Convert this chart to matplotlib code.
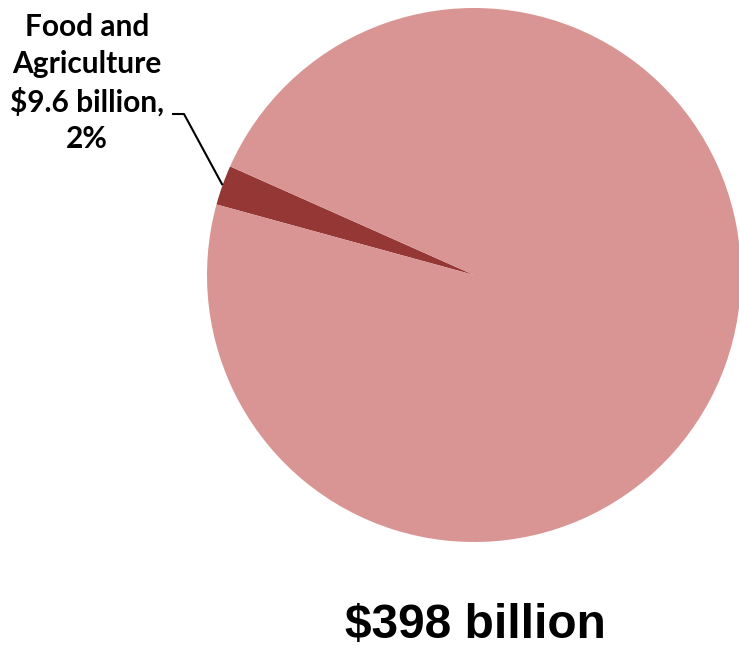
import numpy as np
import matplotlib
matplotlib.use("Agg")
import matplotlib.pyplot as plt

categories = ["Food and Agriculture", "Other"]
values = [9.6, 388.4]
colors = ["#953735", "#D99594"]
label_text = "Food and\nAgriculture\n$9.6 billion,\n2%"
total_text = "$398 billion"

W, H = 739, 652
fig = plt.figure(figsize=(W / 100, H / 100), dpi=100)
ax = fig.add_axes([0, 0, 1, 1])

cx, cy, r = 474, H - 275, 267
start = 156.0
wedges, _ = ax.pie(values, colors=colors, startangle=start, counterclock=True,
                   center=(cx, cy), radius=r, frame=True,
                   wedgeprops=dict(linewidth=0))
ax.set_xlim(0, W)
ax.set_ylim(0, H)
ax.set_aspect("equal")
ax.axis("off")

# leader line from middle of the food wedge
w = wedges[0]
mid = np.deg2rad((w.theta1 + w.theta2) / 2)
px, py = cx + r * np.cos(mid), cy + r * np.sin(mid)
ax.plot([px, 184, 172], [py, H - 114, H - 114], color="black", lw=1.5,
        solid_capstyle="butt", zorder=5)

ax.text(87, H - 83, label_text, ha="center", va="center", multialignment="center",
        fontsize=21.5, fontweight="bold", family="Lato", linespacing=1.38)

ax.text(475, H - 626, total_text, ha="center", va="center",
        fontsize=34.5, fontweight="bold", family="Liberation Sans")

fig.savefig("out.png", dpi=100)
